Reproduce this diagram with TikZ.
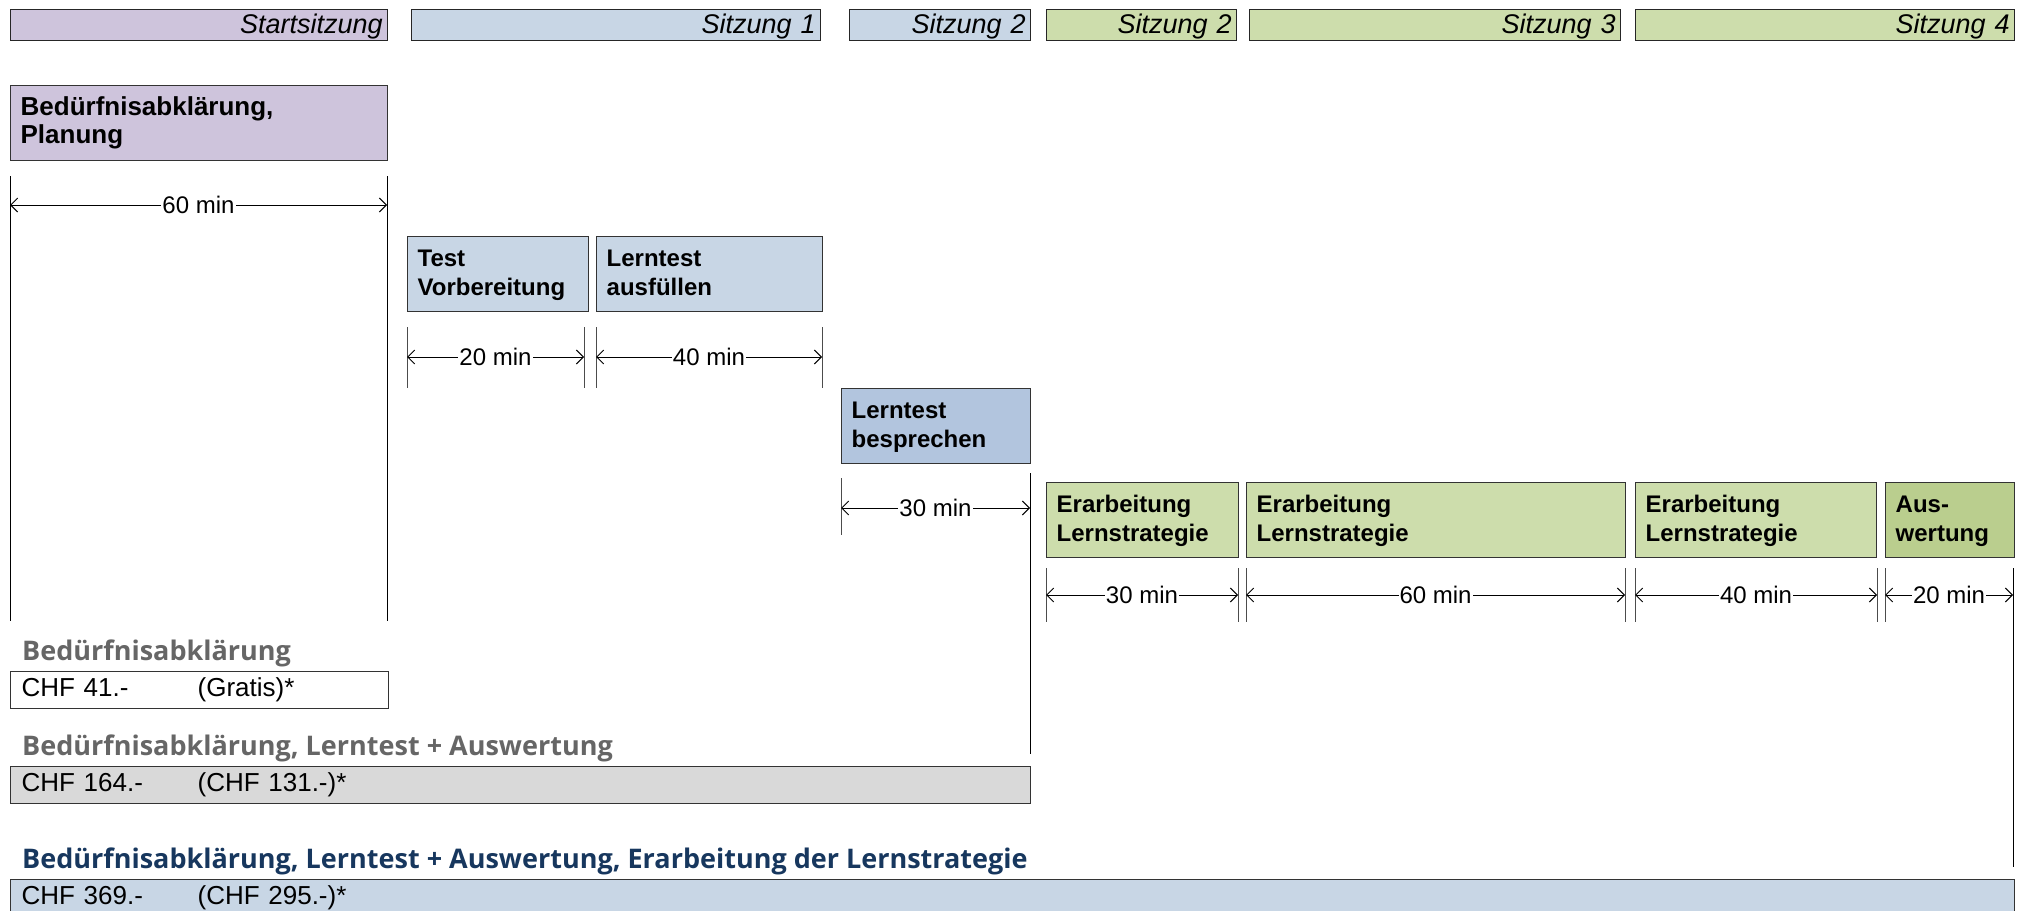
\documentclass[tikz,border=0pt]{standalone}
\usepackage{fontspec}
\setmainfont{Liberation Sans}
\newfontfamily\titelfont{Open Sans}
\usetikzlibrary{arrows.meta}

\definecolor{lila}{RGB}{206,196,220}
\definecolor{hellblau}{RGB}{200,214,229}
\definecolor{mittelblau}{RGB}{178,197,222}
\definecolor{hellgruen}{RGB}{205,221,172}
\definecolor{gruen}{RGB}{186,206,142}
\definecolor{hellgrau}{RGB}{217,217,217}
\definecolor{dunkelblau}{RGB}{23,55,94}

\begin{document}
\begin{tikzpicture}
        [x=1pt, y=-1pt,
        kopf/.style={draw=black!85, line width=1.3pt, anchor=north west, inner xsep=5pt, inner ysep=0pt,
            minimum height=31pt, text height=23.5pt, text depth=7.5pt, align=right,
            font=\itshape\fontsize{27}{30}\selectfont},
        box/.style={draw=black!80, line width=1.3pt, anchor=north west, inner xsep=10pt, inner ysep=0pt,
            minimum height=75pt, text height=30pt, text depth=45pt, align=left,
            font=\bfseries\fontsize{24}{29}\selectfont},
        preis/.style={draw=black!80, line width=1.3pt, anchor=north west, inner xsep=11pt, inner ysep=0pt,
            minimum height=37pt, align=left, font=\fontsize{26}{29}\selectfont},
        titel/.style={anchor=base west, inner sep=0pt, font=\titelfont\bfseries\fontsize{27}{30}\selectfont},
        hilf/.style={line width=1pt, draw=black!70},
        mass/.style={line width=1pt, {Straight Barb[length=7pt,width=14pt]}-{Straight Barb[length=7pt,width=14pt]}},
        zeit/.style={fill=white, inner xsep=1pt, inner ysep=0pt, font=\fontsize{24}{29}\selectfont}]
        \useasboundingbox (0,0) rectangle (2017,910);
        % Kopfzeile
        \node[kopf, fill=lila, text width=367pt] (k0) at (10,9) {Startsitzung};
        \node[kopf, fill=hellblau, text width=399pt] (k1) at (411,9) {Sitzung 1};
        \node[kopf, fill=hellblau, text width=171pt] (k2) at (849,9) {Sitzung 2};
        \node[kopf, fill=hellgruen, text width=180pt] (k3) at (1046,9) {Sitzung 2};
        \node[kopf, fill=hellgruen, text width=361pt] (k4) at (1249,9) {Sitzung 3};
        \node[kopf, fill=hellgruen, text width=369pt] (k5) at (1635,9) {Sitzung 4};
        % Bausteine
        \node[box, fill=lila, text width=357pt, font=\bfseries\fontsize{26}{28.5}\selectfont,
            text height=29.5pt, text depth=45.5pt] (plan) at (10,85) {Bedürfnisabklärung,\\Planung};
        \node[box, fill=hellblau, text width=161pt] (testvor) at (407,236) {Test\\Vorbereitung};
        \node[box, fill=hellblau, text width=206pt] (ausfuellen) at (596,236) {Lerntest\\ausfüllen};
        \node[box, fill=mittelblau, text width=169pt] (besprechen) at (841,388) {Lerntest\\besprechen};
        \node[box, fill=hellgruen, text width=172pt] (erarb1) at (1046,482) {Erarbeitung\\Lernstrategie};
        \node[box, fill=hellgruen, text width=359pt] (erarb2) at (1246,482) {Erarbeitung\\Lernstrategie};
        \node[box, fill=hellgruen, text width=221pt] (erarb3) at (1635,482) {Erarbeitung\\Lernstrategie};
        \node[box, fill=gruen, text width=109pt] (auswert) at (1885,482) {Aus-\\wertung};
        % Zeitangaben
        \coordinate (m1a) at (10,205);
        \coordinate (m1b) at (387,205);
        \draw[hilf, draw=black] (m1a) ++(0,-29) -- ++(0,445);
        \draw[hilf, draw=black] (m1b) ++(0,-29) -- ++(0,445);
        \draw[mass] (m1a) -- node[zeit] (z1) {60 min} (m1b);
        \coordinate (m2a) at (407,357);
        \coordinate (m2b) at (584,357);
        \draw[hilf] (m2a) ++(0,-30) -- ++(0,61);
        \draw[hilf] (m2b) ++(0,-30) -- ++(0,61);
        \draw[mass] (m2a) -- node[zeit] (z2) {20 min} (m2b);
        \coordinate (m3a) at (596,357);
        \coordinate (m3b) at (822,357);
        \draw[hilf] (m3a) ++(0,-30) -- ++(0,61);
        \draw[hilf] (m3b) ++(0,-30) -- ++(0,61);
        \draw[mass] (m3a) -- node[zeit] (z3) {40 min} (m3b);
        \coordinate (m4a) at (841,508);
        \coordinate (m4b) at (1030,508);
        \draw[hilf] (m4a) ++(0,-30) -- ++(0,57);
        \draw[hilf, draw=black] (m4b) ++(0,-35) -- ++(0,281);
        \draw[mass] (m4a) -- node[zeit] (z4) {30 min} (m4b);
        \coordinate (m5a) at (1046,595);
        \coordinate (m5b) at (1238,595);
        \draw[hilf] (m5a) ++(0,-27) -- ++(0,54);
        \draw[hilf] (m5b) ++(0,-27) -- ++(0,54);
        \draw[mass] (m5a) -- node[zeit] (z5) {30 min} (m5b);
        \coordinate (m6a) at (1246,595);
        \coordinate (m6b) at (1625,595);
        \draw[hilf] (m6a) ++(0,-27) -- ++(0,54);
        \draw[hilf] (m6b) ++(0,-27) -- ++(0,54);
        \draw[mass] (m6a) -- node[zeit] (z6) {60 min} (m6b);
        \coordinate (m7a) at (1635,595);
        \coordinate (m7b) at (1877,595);
        \draw[hilf] (m7a) ++(0,-27) -- ++(0,54);
        \draw[hilf] (m7b) ++(0,-27) -- ++(0,54);
        \draw[mass] (m7a) -- node[zeit] (z7) {40 min} (m7b);
        \coordinate (m8a) at (1885,595);
        \coordinate (m8b) at (2013,595);
        \draw[hilf] (m8a) ++(0,-27) -- ++(0,54);
        \draw[hilf, draw=black] (m8b) ++(0,-27) -- ++(0,299);
        \draw[mass] (m8a) -- node[zeit] (z8) {20 min} (m8b);
        % Preise
        \node[titel, text=black!60] (u1) at (22,660) {Bedürfnisabklärung};
        \node[preis, fill=white, text width=356pt] (p1) at (10,671) {\makebox[176pt][l]{CHF 41.-}(Gratis)*};
        \node[titel, text=black!60] (u2) at (22,755) {Bedürfnisabklärung, Lerntest + Auswertung};
        \node[preis, fill=hellgrau, text width=998pt] (p2) at (10,766) {\makebox[176pt][l]{CHF 164.-}(CHF 131.-)*};
        \node[titel, text=dunkelblau] (u3) at (22,868) {Bedürfnisabklärung, Lerntest + Auswertung, Erarbeitung der Lernstrategie};
        \node[preis, fill=hellblau, text width=1982pt] (p3) at (10,879) {\makebox[176pt][l]{CHF 369.-}(CHF 295.-)*};
    \end{tikzpicture}
\end{document}
